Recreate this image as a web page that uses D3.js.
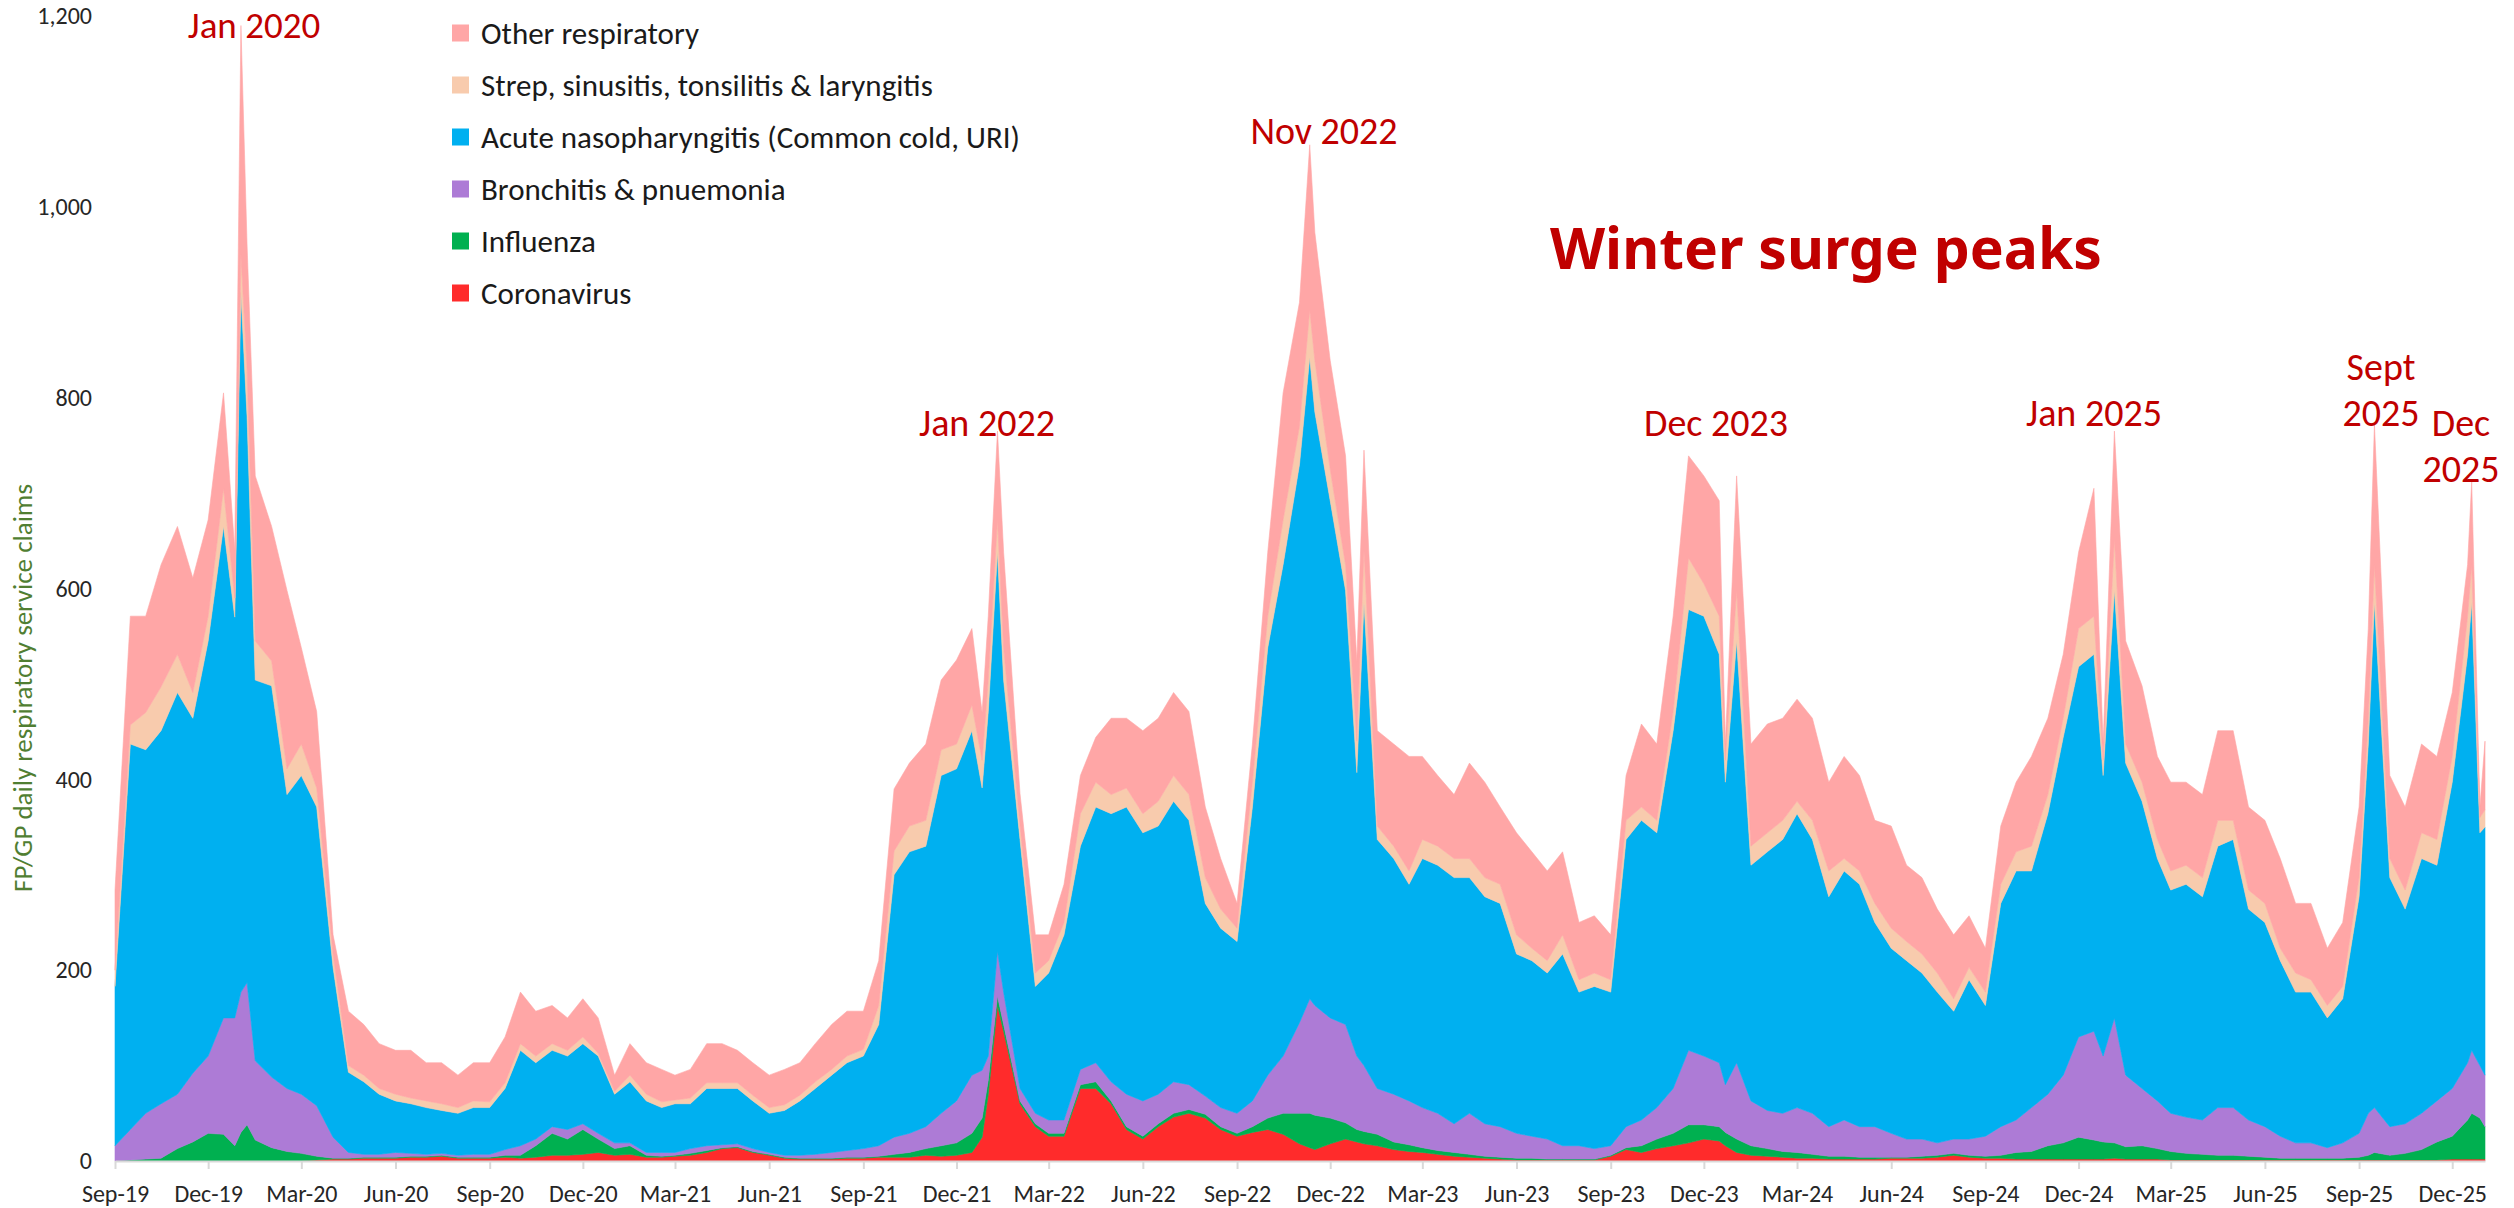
<html>
<head>
    <meta charset="utf-8">
    <title>Respiratory service claims</title>
</head>

<style>
    body { margin: 0; background: #fff; }
    text { font-family: Carlito, Lato, sans-serif; }
</style>
<body>
<svg width="2514" height="1208"></svg>

<script src="https://d3js.org/d3.v7.min.js" charset="utf-8"></script>
<script>

    // half-monthly readings (plus a few peak / dip days)
    var dates = [
        "2019-09-01","2019-09-16","2019-10-01","2019-10-16","2019-11-01","2019-11-16","2019-12-01","2019-12-16","2019-12-27",
        "2020-01-02","2020-01-08","2020-01-16","2020-02-01","2020-02-16","2020-03-01","2020-03-16","2020-04-01","2020-04-16","2020-05-01","2020-05-16","2020-06-01","2020-06-16","2020-07-01","2020-07-16","2020-08-01","2020-08-16","2020-09-01","2020-09-16","2020-10-01","2020-10-16","2020-11-01","2020-11-16","2020-12-01","2020-12-16",
        "2021-01-01","2021-01-16","2021-02-01","2021-02-16","2021-03-01","2021-03-16","2021-04-01","2021-04-16","2021-05-01","2021-05-16","2021-06-01","2021-06-16","2021-07-01","2021-07-16","2021-08-01","2021-08-16","2021-09-01","2021-09-16","2021-10-01","2021-10-16","2021-11-01","2021-11-16","2021-12-01","2021-12-16","2021-12-26",
        "2022-01-01","2022-01-10","2022-01-16","2022-02-01","2022-02-16","2022-03-01","2022-03-16","2022-04-01","2022-04-16","2022-05-01","2022-05-16","2022-06-01","2022-06-16","2022-07-01","2022-07-16","2022-08-01","2022-08-16","2022-09-01","2022-09-16","2022-10-01","2022-10-16","2022-11-01","2022-11-11","2022-11-16","2022-12-01","2022-12-16","2022-12-27",
        "2023-01-03","2023-01-16","2023-02-01","2023-02-16","2023-03-01","2023-03-16","2023-04-01","2023-04-16","2023-05-01","2023-05-16","2023-06-01","2023-06-16","2023-07-01","2023-07-16","2023-08-01","2023-08-16","2023-09-01","2023-09-16","2023-10-01","2023-10-16","2023-11-01","2023-11-16","2023-12-01","2023-12-16","2023-12-22",
        "2024-01-02","2024-01-16","2024-02-01","2024-02-16","2024-03-01","2024-03-16","2024-04-01","2024-04-16","2024-05-01","2024-05-16","2024-06-01","2024-06-16","2024-07-01","2024-07-16","2024-08-01","2024-08-16","2024-09-01","2024-09-16","2024-10-01","2024-10-16","2024-11-01","2024-11-16","2024-12-01","2024-12-16","2024-12-25",
        "2025-01-05","2025-01-16","2025-02-01","2025-02-16","2025-03-01","2025-03-16","2025-04-01","2025-04-16","2025-05-01","2025-05-16","2025-06-01","2025-06-16","2025-07-01","2025-07-16","2025-08-01","2025-08-16","2025-09-01","2025-09-10","2025-09-16","2025-10-01","2025-10-16","2025-11-01","2025-11-16","2025-12-01","2025-12-16","2025-12-20","2025-12-28",
        "2026-01-02"
    ];

    var coronavirus = [
        0,0,0,0,0,0,0,0,0,
        0,0,0,0,0,0,1,2,2,3,3,3,4,4,5,3,3,3,4,3,4,6,6,7,9,
        6,7,4,4,5,6,9,13,14,9,6,3,2,2,2,3,3,4,4,4,6,5,6,9,25,
        70,163,136,60,36,26,26,76,76,60,33,23,36,46,50,45,33,26,30,33,28,18,14,12,18,23,20,
        18,16,12,10,9,7,5,4,3,2,1,1,1,1,1,1,5,12,9,13,16,19,23,21,16,
        9,6,5,4,3,3,2,2,2,2,3,3,3,4,6,4,3,3,2,2,2,2,2,2,2,
        3,2,2,2,1,1,1,1,1,1,1,1,1,1,1,1,1,1,1,1,1,1,1,2,2,2,2,
        2
    ];
    var influenza = [
        0,1,2,3,13,20,29,28,16,
        30,38,22,14,10,8,4,1,1,1,1,1,1,1,1,1,1,1,2,3,12,23,17,26,14,
        7,9,2,1,1,2,2,1,1,1,1,1,1,1,1,1,1,1,3,5,7,11,13,20,20,
        15,10,7,3,3,3,3,4,7,3,3,3,3,4,4,4,3,3,6,12,22,32,36,36,27,17,13,
        13,12,8,7,5,4,4,3,2,2,2,2,1,1,1,1,1,2,7,10,13,19,15,15,14,
        14,10,8,6,6,4,3,3,2,2,1,1,2,2,2,2,2,3,7,8,14,17,23,20,18,
        16,13,14,11,9,7,6,5,5,4,3,2,2,2,2,2,3,5,8,5,7,11,19,24,41,48,43,
        34
    ];
    var bronchitis = [
        16,32,48,57,57,72,81,122,134,
        147,149,83,74,66,62,53,22,6,3,3,5,3,2,2,2,3,3,6,10,7,7,10,6,6,
        6,3,3,4,3,5,5,3,3,3,2,2,3,4,6,7,9,11,18,20,23,34,44,61,50,
        25,47,34,13,11,14,14,16,20,20,34,37,31,33,26,19,20,21,27,45,60,95,120,115,105,103,77,
        69,48,50,46,42,39,30,43,34,32,26,23,21,14,14,11,10,22,27,33,47,78,72,67,50,
        80,47,40,40,47,43,31,38,32,32,25,19,18,13,15,17,21,30,34,46,54,71,105,114,90,
        131,75,60,50,40,38,36,50,50,38,32,23,16,16,11,16,25,44,47,30,31,38,43,50,60,66,55,
        54
    ];
    var commonCold = [
        167,404,381,391,421,372,435,515,420,
        733,593,399,410,308,334,313,178,84,76,63,54,52,49,45,44,49,49,64,100,80,80,77,84,81,
        51,64,54,47,51,47,60,59,58,50,41,47,57,69,81,92,97,127,275,295,294,354,348,361,296,
        361,418,327,261,133,154,194,234,268,281,301,281,281,294,277,202,188,180,308,448,515,585,672,622,542,455,297,
        485,261,247,227,261,260,258,247,238,234,188,184,174,201,161,170,161,301,314,288,375,462,461,428,317,
        442,247,271,287,308,287,241,261,254,214,194,187,174,158,134,167,137,234,261,248,294,354,388,395,294,
        448,327,301,254,234,244,234,274,281,221,214,184,158,158,136,151,248,387,529,261,225,267,247,321,428,469,244,
        260
    ];
    var strep = [
        17,20,39,46,40,27,26,40,20,
        40,50,41,26,27,33,20,14,7,7,6,7,6,7,7,6,7,6,6,7,7,7,6,7,3,
        3,7,7,6,4,6,6,6,6,6,6,6,6,7,6,7,7,20,25,27,27,27,26,27,29,
        33,34,34,14,14,13,13,34,26,20,20,20,26,27,27,27,20,14,26,33,47,40,50,54,33,27,33,
        55,14,13,14,20,20,20,20,20,20,20,13,13,20,13,14,13,20,14,13,20,54,34,40,23,
        53,20,20,20,13,20,27,13,14,20,21,20,20,20,13,13,14,20,20,26,20,20,40,40,16,
        54,20,20,20,20,20,20,27,20,20,20,13,20,13,13,13,20,27,40,20,20,27,27,27,40,40,16,
        18
    ];
    var otherResp = [
        84,114,101,128,134,120,101,100,50,
        240,130,173,141,187,101,80,20,57,53,47,46,50,40,43,34,40,41,48,54,47,40,34,40,37,
        17,33,33,34,26,30,41,41,34,34,34,37,34,40,47,47,40,47,65,66,80,73,88,80,50,
        67,93,100,34,40,27,40,40,47,80,73,87,87,87,87,74,53,26,40,67,133,130,173,134,114,114,84,
        105,100,107,120,87,74,67,100,100,81,107,101,94,87,60,60,47,47,87,80,100,107,113,121,17,
        120,107,114,107,107,107,93,107,100,87,107,80,80,67,67,54,46,61,73,94,80,67,80,134,17,
        113,108,101,87,93,87,87,94,94,87,87,94,73,80,60,67,74,94,147,87,87,93,87,67,54,87,11,
        72
    ];

    var seriesKeys = ["coronavirus", "influenza", "bronchitis", "commonCold", "strep", "otherResp"];
    var seriesNames = ["Coronavirus", "Influenza", "Bronchitis & pnuemonia",
        "Acute nasopharyngitis (Common cold, URI)", "Strep, sinusitis, tonsilitis & laryngitis", "Other respiratory"];
    var seriesColors = ["#ff2b2b", "#00b050", "#ad7bd6", "#00b0f0", "#f8cbad", "#ffa6a6"];

    var xTickLabels = ["Sep-19","Dec-19","Mar-20","Jun-20","Sep-20","Dec-20","Mar-21","Jun-21","Sep-21",
        "Dec-21","Mar-22","Jun-22","Sep-22","Dec-22","Mar-23","Jun-23","Sep-23","Dec-23","Mar-24",
        "Jun-24","Sep-24","Dec-24","Mar-25","Jun-25","Sep-25","Dec-25"];
    var yTickValues = [0, 200, 400, 600, 800, 1000, 1200];

    var peakLabels = [["Jan 2020"], ["Jan 2022"], ["Nov 2022"], ["Dec 2023"], ["Jan 2025"], ["Sept", "2025"], ["Dec", "2025"]];

    var parseDay = d3.timeParse("%Y-%m-%d");
    var parseTick = d3.timeParse("%b-%y");

    var table = dates.map(function (d, i) {
        return {
            date: parseDay(d),
            coronavirus: coronavirus[i],
            influenza: influenza[i],
            bronchitis: bronchitis[i],
            commonCold: commonCold[i],
            strep: strep[i],
            otherResp: otherResp[i]
        };
    });

    var svg = d3.select('svg');

    var x = d3.scaleTime()
        .domain([parseDay("2019-09-01"), parseDay("2026-01-02")])
        .range([115, 2485]);
    var y = d3.scaleLinear().domain([0, 1200]).range([1161, 16]);

    var stacked = d3.stack().keys(seriesKeys)(table);

    var area = d3.area()
        .x(function (d) { return x(d.data.date); })
        .y0(function (d) { return y(d[0]); })
        .y1(function (d) { return y(d[1]); });

    svg.append('g').selectAll('path')
        .data(stacked)
        .enter().append('path')
        .attr('d', area)
        .attr('fill', function (d, i) { return seriesColors[i]; })
        .attr('stroke', function (d, i) { return seriesColors[i]; })
        .attr('stroke-width', 0.6);

    // x axis
    var xAxis = d3.axisBottom(x)
        .tickValues(xTickLabels.map(parseTick))
        .tickFormat(d3.timeFormat("%b-%y"))
        .tickSize(8)
        .tickSizeOuter(0)
        .tickPadding(16);
    var gx = svg.append('g')
        .attr('transform', 'translate(0,1161)')
        .call(xAxis);
    gx.select('.domain').attr('stroke', '#d9d9d9').attr('stroke-width', 2);
    gx.selectAll('.tick line').attr('stroke', '#d9d9d9').attr('stroke-width', 2);
    gx.selectAll('text')
        .attr('fill', '#262626')
        .style('font-size', '24px');

    // y axis: labels only
    var yAxis = d3.axisLeft(y)
        .tickValues(yTickValues)
        .tickFormat(d3.format(","))
        .tickSize(0)
        .tickPadding(0);
    var gy = svg.append('g')
        .attr('transform', 'translate(92,0)')
        .call(yAxis);
    gy.select('.domain').remove();
    gy.selectAll('text')
        .attr('fill', '#262626')
        .style('font-size', '24px');

    svg.append('text')
        .attr('transform', 'translate(32,688) rotate(-90)')
        .attr('text-anchor', 'middle')
        .attr('fill', '#507e32')
        .style('font-size', '27px')
        .text('FP/GP daily respiratory service claims');

    // legend, top item first
    var legend = svg.append('g').attr('transform', 'translate(452,33)');
    var items = legend.selectAll('g')
        .data(d3.range(seriesKeys.length).reverse())
        .enter().append('g')
        .attr('transform', function (d, i) { return 'translate(0,' + (i * 52) + ')'; });
    items.append('rect')
        .attr('x', 0).attr('y', -8.5)
        .attr('width', 17).attr('height', 17)
        .attr('fill', function (d) { return seriesColors[d]; });
    items.append('text')
        .attr('x', 29)
        .attr('dy', '0.35em')
        .attr('fill', '#1a1a1a')
        .style('font-size', '31px')
        .text(function (d) { return seriesNames[d]; });

    // peak annotations
    var labelPos = [[254, 38], [987, 436], [1324, 144], [1716, 436], [2094, 426], [2381, 380], [2461, 436]];
    peakLabels.forEach(function (lines, i) {
        var t = svg.append('text')
            .attr('text-anchor', 'middle')
            .attr('fill', '#c00000')
            .style('font-size', i === 0 ? '37px' : '38px');
        lines.forEach(function (line, j) {
            t.append('tspan')
                .attr('x', labelPos[i][0])
                .attr('y', labelPos[i][1] + j * 46)
                .text(line);
        });
    });

    svg.append('text')
        .attr('x', 1550)
        .attr('y', 269)
        .attr('fill', '#c00000')
        .style('font-family', '"Noto Sans", sans-serif')
        .style('font-weight', 'bold')
        .style('font-size', '57px')
        .text('Winter surge peaks');

</script>

</body>
</html>
